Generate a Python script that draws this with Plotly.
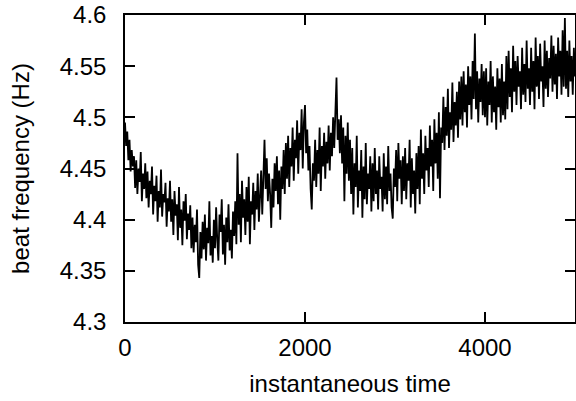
import numpy as np
import plotly.graph_objects as go

# beat frequency (Hz) samples, evenly spaced over 0..5000
freq = [
    4.495, 4.472, 4.486, 4.458, 4.478, 4.447, 4.468, 4.452, 4.462, 4.431, 4.458, 4.425, 4.450, 4.437, 4.466, 4.418, 4.445, 4.430, 4.455, 4.421,
    4.447, 4.412, 4.438, 4.425, 4.452, 4.405, 4.433, 4.418, 4.443, 4.398, 4.428, 4.412, 4.449, 4.403, 4.425, 4.417, 4.436, 4.393, 4.421, 4.408,
    4.438, 4.398, 4.420, 4.385, 4.428, 4.404, 4.415, 4.380, 4.432, 4.392, 4.410, 4.375, 4.418, 4.399, 4.425, 4.381, 4.406, 4.390, 4.414, 4.372,
    4.402, 4.368, 4.395, 4.378, 4.410, 4.356, 4.343, 4.388, 4.362, 4.398, 4.371, 4.405, 4.360, 4.392, 4.377, 4.418, 4.365, 4.384, 4.358, 4.400,
    4.372, 4.412, 4.380, 4.360, 4.405, 4.388, 4.420, 4.366, 4.395, 4.356, 4.402, 4.378, 4.415, 4.370, 4.390, 4.362, 4.408, 4.384, 4.418, 4.376,
    4.465, 4.395, 4.425, 4.378, 4.438, 4.402, 4.420, 4.385, 4.432, 4.398, 4.442, 4.376, 4.418, 4.405, 4.436, 4.390, 4.428, 4.410, 4.445, 4.398,
    4.422, 4.448, 4.405, 4.455, 4.478, 4.430, 4.460, 4.418, 4.445, 4.425, 4.392, 4.440, 4.412, 4.455, 4.428, 4.462, 4.415, 4.448, 4.400, 4.452,
    4.430, 4.468, 4.425, 4.475, 4.440, 4.482, 4.432, 4.470, 4.452, 4.490, 4.438, 4.478, 4.460, 4.497, 4.445, 4.485, 4.468, 4.508, 4.450, 4.495,
    4.512, 4.465, 4.488, 4.448, 4.472, 4.430, 4.410, 4.455, 4.438, 4.478, 4.432, 4.468, 4.445, 4.490, 4.428, 4.472, 4.452, 4.485, 4.440, 4.476,
    4.455, 4.492, 4.448, 4.485, 4.462, 4.500, 4.470, 4.505, 4.539, 4.478, 4.498, 4.465, 4.502, 4.455, 4.490, 4.418, 4.482, 4.445, 4.495, 4.438,
    4.478, 4.425, 4.470, 4.405, 4.455, 4.432, 4.482, 4.412, 4.448, 4.428, 4.468, 4.402, 4.452, 4.420, 4.475, 4.415, 4.445, 4.430, 4.462, 4.408,
    4.455, 4.418, 4.470, 4.425, 4.448, 4.410, 4.462, 4.430, 4.442, 4.408, 4.465, 4.420, 4.452, 4.415, 4.472, 4.428, 4.445, 4.412, 4.401, 4.450,
    4.432, 4.468, 4.418, 4.475, 4.440, 4.458, 4.415, 4.462, 4.428, 4.470, 4.420, 4.455, 4.438, 4.478, 4.412, 4.460, 4.425, 4.448, 4.406, 4.465,
    4.430, 4.472, 4.415, 4.488, 4.440, 4.465, 4.425, 4.482, 4.448, 4.470, 4.432, 4.492, 4.452, 4.478, 4.428, 4.498, 4.455, 4.485, 4.440, 4.505,
    4.421, 4.490, 4.475, 4.520, 4.468, 4.510, 4.482, 4.528, 4.470, 4.505, 4.488, 4.534, 4.476, 4.515, 4.492, 4.525, 4.480, 4.535, 4.498, 4.540,
    4.492, 4.545, 4.505, 4.532, 4.490, 4.550, 4.512, 4.540, 4.498, 4.555, 4.518, 4.582, 4.508, 4.545, 4.495, 4.538, 4.515, 4.552, 4.502, 4.545,
    4.500, 4.548, 4.492, 4.535, 4.512, 4.555, 4.495, 4.540, 4.505, 4.530, 4.488, 4.548, 4.510, 4.538, 4.495, 4.552, 4.502, 4.535, 4.498, 4.560,
    4.508, 4.565, 4.520, 4.548, 4.505, 4.570, 4.525, 4.555, 4.512, 4.560, 4.530, 4.545, 4.508, 4.568, 4.522, 4.552, 4.515, 4.575, 4.528, 4.548,
    4.512, 4.568, 4.525, 4.555, 4.508, 4.578, 4.530, 4.560, 4.518, 4.572, 4.535, 4.550, 4.510, 4.575, 4.528, 4.565, 4.520, 4.558, 4.538, 4.580,
    4.525, 4.570, 4.532, 4.562, 4.518, 4.578, 4.540, 4.565, 4.522, 4.585, 4.530, 4.597, 4.528, 4.565, 4.520, 4.575, 4.535, 4.560, 4.522, 4.568, 4.540,
]
t_start, t_end = 0, 5000
time = np.linspace(t_start, t_end, len(freq))

x_ticks = [0, 2000, 4000]
y_ticks = [4.3, 4.35, 4.4, 4.45, 4.5, 4.55, 4.6]
y_tick_text = ["4.3", "4.35", "4.4", "4.45", "4.5", "4.55", "4.6"]

fig = go.Figure(go.Scatter(x=time, y=freq, mode="lines",
                           line=dict(color="black", width=1.8)))

font = dict(family="Liberation Sans, Arial, sans-serif", size=24, color="black")
axis_common = dict(showline=True, linecolor="black", linewidth=1.5, mirror="ticks",
                   ticks="inside", ticklen=10, tickwidth=1.5, tickcolor="black",
                   showgrid=False, zeroline=False, tickfont=font, automargin=False)

fig.update_layout(
    width=576, height=401,
    margin=dict(l=125, r=1, t=15, b=79),
    paper_bgcolor="white", plot_bgcolor="white",
    showlegend=False, font=font,
    xaxis=dict(range=[0, 5000], tickvals=x_ticks, ticklabelstandoff=3,
               title=dict(text="instantaneous time", font=font, standoff=16), **axis_common),
    yaxis=dict(range=[4.3, 4.6], tickvals=y_ticks, ticktext=y_tick_text, ticklabelstandoff=12,
               title=dict(text="beat frequency (Hz)", font=font, standoff=23), **axis_common),
)
fig.write_html("out.html", config={"displayModeBar": False},
               post_script="document.body.style.margin='0';document.body.style.overflow='hidden';")
